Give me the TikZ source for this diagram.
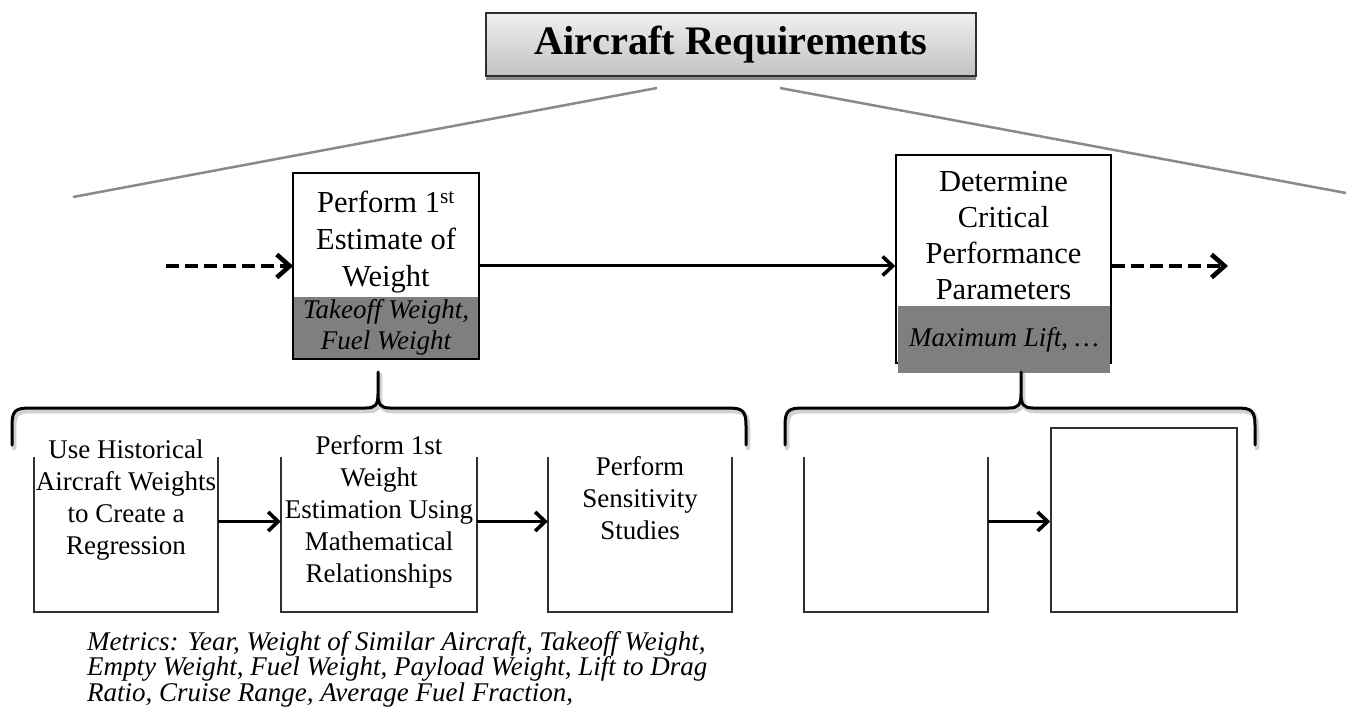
\documentclass[tikz,border=0pt]{standalone}
\usepackage{fontspec}
\setmainfont{Liberation Serif}
\usetikzlibrary{arrows.meta,shadows}
\definecolor{bandgray}{HTML}{7F7F7F}
\definecolor{linegray}{HTML}{8A8A8A}
\definecolor{edgegray}{HTML}{303030}
\newcommand{\mybrace}[3]{(#1,445) -- (#1,426) .. controls (#1,411) and (#1+3,408) .. (#1+18,408) -- (#2-12,408) .. controls (#2-3,408) and (#2,405) .. (#2,394) -- (#2,372) (#2,394) .. controls (#2,405) and (#2+3,408) .. (#2+12,408) -- (#3-18,408) .. controls (#3-3,408) and (#3,411) .. (#3,426) -- (#3,445)}
\begin{document}
\begin{tikzpicture}[x=1pt,y=-1pt,
  titlebox/.style={draw=edgegray, line width=1.5pt, top color=white!94!black, bottom color=white!76!black,
    minimum width=490pt, minimum height=63pt, inner sep=0pt,
    drop shadow={shadow xshift=0pt, shadow yshift=-4pt, fill=black, opacity=0.45},
    font=\fontsize{40.5}{48}\selectfont\bfseries},
  topbox/.style={fill=white, draw=black, line width=1.6pt, inner sep=0pt},
  band/.style={fill=bandgray, inner sep=0pt, font=\fontsize{27}{31}\selectfont\itshape, align=center},
  toptext/.style={inner sep=0pt, align=center, font=\fontsize{30.5}{37}\selectfont},
  subbox/.style={inner sep=0pt, minimum height=155pt},
  subedge/.style={draw=edgegray, line width=1.6pt},
  subtext/.style={inner sep=0pt, align=center, font=\fontsize{27}{32}\selectfont},
  slant/.style={draw=linegray, line width=2.5pt},
  bracestyle/.style={draw=black, line width=3pt, line cap=round},
  braceshadow/.style={draw=black!30, line width=4.5pt, line cap=round, opacity=0.6},
  arr/.style={line width=3pt, -{Straight Barb[length=10pt,width=19pt,line width=3.6pt]}},
  darr/.style={line width=4pt, dash pattern=on 13pt off 6pt, -{Straight Barb[length=13pt,width=23pt,line width=4.6pt]}},
  metrics/.style={inner sep=0pt, align=left, font=\fontsize{27}{25.5}\selectfont\itshape}
]
\useasboundingbox (0,0) rectangle (1346,719);

% slanted grey lines
\coordinate (gl1) at (73,197);
\coordinate (gl2) at (657,88);
\coordinate (gr1) at (780,88);
\coordinate (gr2) at (1346,193);
\draw[slant] (gl1) -- (gl2);
\draw[slant] (gr1) -- (gr2);

% title
\node[titlebox] (t) at (731,44.5) {Aircraft Requirements};

% top boxes
\node[topbox, draw=none, minimum width=184pt, minimum height=184pt] (b1) at (386,266) {};
\node[band, minimum width=184pt, minimum height=61pt] (b1g) at (386,327.5) {Takeoff Weight,\\Fuel Weight};
\draw[line width=1.6pt] (b1.north west) rectangle (b1.south east);
\node[toptext] (tb1) at (386,242) {Perform 1\textsuperscript{st}\\Estimate of\\Weight};

\node[topbox, minimum width=215pt, minimum height=208pt] (b2) at (1003.5,259) {};
\node[band, minimum width=212pt, minimum height=67pt] (b2g) at (1004,339.5) {Maximum Lift, …};
\node[toptext, font=\fontsize{30.5}{36}\selectfont] (tb2) at (1003.5,235.5) {Determine\\Critical\\Performance\\Parameters};

% top arrows
\coordinate (dl) at (166,266);
\coordinate (dr) at (1228,266);
\draw[arr] (b1.east) -- (b1.east -| b2.west);
\draw[darr] (dl) -- (dl -| b1.west);
\draw[darr] (dr -| b2.east) -- (dr);

% braces
\draw[braceshadow, shift={(2,3)}] \mybrace{12}{378}{746};
\draw[braceshadow, shift={(2,3)}] \mybrace{785}{1021}{1255};
\draw[bracestyle] \mybrace{12}{378}{746};
\draw[bracestyle] \mybrace{785}{1021}{1255};

% bottom boxes
\node[subbox, minimum width=184pt] (sa) at (126,534.5) {};
\node[subbox, minimum width=196pt] (sb) at (379,534.5) {};
\node[subbox, minimum width=184pt] (sc) at (640,534.5) {};
\node[subbox, minimum width=184pt] (sd) at (896,534.5) {};
\node[subedge, inner sep=0pt, minimum width=186pt, minimum height=184pt] (se) at (1144,520) {};
\foreach \b in {sa,sb,sc,sd}
  \draw[subedge] (\b.north west) -- (\b.south west) -- (\b.south east) -- (\b.north east);

\node[subtext] (ta) at (126,500) {Use Historical\\Aircraft Weights\\to Create a\\Regression};
\node[subtext] (tb) at (379,511.5) {Perform 1st\\Weight\\Estimation Using\\Mathematical\\Relationships};
\node[subtext] (tc) at (640,498.5) {Perform\\Sensitivity\\Studies};

\draw[arr] ([yshift=13pt]sa.east) -- ([yshift=13pt]sa.east -| sb.west);
\draw[arr] ([yshift=13pt]sb.east) -- ([yshift=13pt]sb.east -| sc.west);
\draw[arr] ([yshift=13pt]sd.east) -- ([yshift=13pt]sd.east -| se.west);

% metrics
\node[metrics, anchor=west] (m) at (87,669) {Metrics: Year, Weight of Similar Aircraft, Takeoff Weight,\\Empty Weight, Fuel Weight, Payload Weight, Lift to Drag\\Ratio, Cruise Range, Average Fuel Fraction,};
\end{tikzpicture}
\end{document}
